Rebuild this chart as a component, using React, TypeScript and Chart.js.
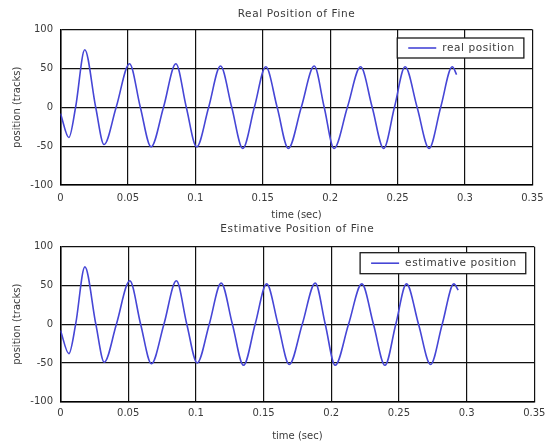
import React, { useEffect, useRef } from 'react';
import { Chart, registerables } from 'chart.js';

Chart.register(...registerables);

// time axis samples (sec): start, troughs, zero crossings, peaks
const timeSec = [
  0, 0.0062, 0.0112, 0.018, 0.0261, 0.0323, 0.0413, 0.0512, 0.0592, 0.0672,
  0.0764, 0.0856, 0.0933, 0.101, 0.1099, 0.1187, 0.127, 0.1352, 0.1438, 0.1523,
  0.1607, 0.169, 0.1786, 0.1882, 0.1956, 0.2029, 0.2128, 0.2226, 0.2312, 0.2397,
  0.2477, 0.2556, 0.2645, 0.2734, 0.282, 0.2906, 0.2938,
];

const realPosition = [
  -8, -39, 0, 74, 0, -48, 0, 56, 0, -51,
  0, 56, 0, -51, 0, 53, 0, -53, 0, 52,
  0, -53, 0, 53, 0, -53, 0, 52, 0, -53,
  0, 52, 0, -53, 0, 52, 42,
];

const estimativePosition = [
  -8, -38, 0, 74, 0, -49, 0, 56, 0, -51,
  0, 56, 0, -50, 0, 53, 0, -53, 0, 52,
  0, -52, 0, 53, 0, -53, 0, 52, 0, -53,
  0, 52, 0, -52, 0, 52, 44,
];

const xTickLabels = ['0', '0.05', '0.1', '0.15', '0.2', '0.25', '0.3', '0.35'];
const yTickLabels = ['-100', '-50', '0', '50', '100'];

const LINE_COLOR = '#4646d6';
const TEXT_COLOR = '#3a3a3a';

Chart.defaults.font.family = '"DejaVu Sans", "Liberation Sans", Arial, sans-serif';
Chart.defaults.font.size = 10;
Chart.defaults.color = TEXT_COLOR;

const decorPlugin = {
  id: 'decor',
  afterDraw(chart: any, _args: any, opts: any) {
    const { ctx, chartArea: a } = chart;
    ctx.save();
    ctx.font = '10.5px "DejaVu Sans", sans-serif';
    (ctx as any).letterSpacing = '0.6px';
    ctx.fillStyle = TEXT_COLOR;
    ctx.textAlign = 'center';
    ctx.textBaseline = 'middle';
    ctx.fillText(opts.title, (a.left + a.right) / 2, opts.titleY);

    const tw = ctx.measureText(opts.legend).width;
    const boxW = 11 + 28 + 6 + tw + 9;
    const boxH = opts.legendH;
    const bx = a.right - 8.5 - boxW;
    const by = a.top + opts.legendTop;
    ctx.fillStyle = '#ffffff';
    ctx.fillRect(bx, by, boxW, boxH);
    ctx.strokeStyle = '#1a1a1a';
    ctx.lineWidth = 1.3;
    ctx.strokeRect(bx, by, boxW, boxH);
    ctx.strokeStyle = LINE_COLOR;
    ctx.lineWidth = 1.6;
    ctx.beginPath();
    ctx.moveTo(bx + 11, by + boxH / 2);
    ctx.lineTo(bx + 39, by + boxH / 2);
    ctx.stroke();
    ctx.fillStyle = TEXT_COLOR;
    ctx.textAlign = 'left';
    ctx.fillText(opts.legend, bx + 45, by + boxH / 2);
    ctx.restore();
  },
};

type PanelProps = {
  values: number[];
  label: string;
  title: string;
  height: number;
  padTop: number;
  titleY: number;
  xAxisHeight: number;
  xTickPad: number;
  xTitlePad: number;
  legendTop: number;
  legendH: number;
};

function Panel(p: PanelProps) {
  const ref = useRef<HTMLCanvasElement | null>(null);
  useEffect(() => {
    if (!ref.current) return;
    const chart = new Chart(ref.current, {
      type: 'line',
      data: {
        datasets: [
          {
            label: p.label,
            data: timeSec.map((t, i) => ({ x: t, y: p.values[i] })),
            borderColor: LINE_COLOR,
            borderWidth: 1.6,
            pointRadius: 0,
            cubicInterpolationMode: 'monotone',
            fill: false,
          },
        ],
      },
      options: {
        animation: false,
        responsive: false,
        devicePixelRatio: 1,
        layout: { padding: { top: p.padTop, right: 15, bottom: 0, left: 0 } },
        plugins: {
          legend: { display: false },
          title: { display: false },
          tooltip: { enabled: false },
          decor: {
            title: p.title,
            titleY: p.titleY,
            legend: p.label,
            legendTop: p.legendTop,
            legendH: p.legendH,
          },
        } as any,
        scales: {
          x: {
            type: 'linear',
            min: 0,
            max: 0.35,
            afterFit: (s: any) => {
              s.height = p.xAxisHeight;
            },
            ticks: {
              stepSize: 0.05,
              padding: p.xTickPad,
              maxRotation: 0,
              autoSkip: false,
              callback: (_v: any, i: number) => xTickLabels[i],
            },
            grid: { color: '#111', lineWidth: 1.2, drawTicks: false },
            border: { color: '#000', width: 1.5 },
            title: {
              display: true,
              text: 'time (sec)',
              padding: { top: 0, bottom: p.xTitlePad },
              font: { size: 10 },
            },
          },
          y: {
            type: 'linear',
            min: -100,
            max: 100,
            afterFit: (s: any) => {
              s.width = 60.5;
            },
            ticks: {
              stepSize: 50,
              padding: 7.5,
              callback: (_v: any, i: number) => yTickLabels[i],
            },
            grid: { color: '#111', lineWidth: 1.2, drawTicks: false },
            border: { color: '#000', width: 1.5 },
            title: {
              display: true,
              text: 'position (tracks)',
              padding: { top: 11, bottom: 0 },
              font: { size: 10 },
            },
          },
        },
      },
      plugins: [decorPlugin],
    } as any);
    return () => chart.destroy();
  }, []);
  return (
    <canvas
      ref={ref}
      width={551}
      height={p.height}
      style={{ display: 'block', width: 551, height: p.height }}
    />
  );
}

export default function App() {
  return (
    <div style={{ position: 'absolute', left: 0, top: 0, width: 551, height: 445, background: '#fff' }}>
      <Panel
        values={realPosition}
        label="real position"
        title="Real Position of Fine"
        height={222}
        padTop={29.5}
        titleY={14}
        xAxisHeight={37}
        xTickPad={7.5}
        xTitlePad={1}
        legendTop={8.5}
        legendH={20}
      />
      <Panel
        values={estimativePosition}
        label="estimative position"
        title="Estimative Position of Fine"
        height={223}
        padTop={24.7}
        titleY={7.5}
        xAxisHeight={43.3}
        xTickPad={5.6}
        xTitlePad={2.3}
        legendTop={6}
        legendH={21}
      />
    </div>
  );
}
